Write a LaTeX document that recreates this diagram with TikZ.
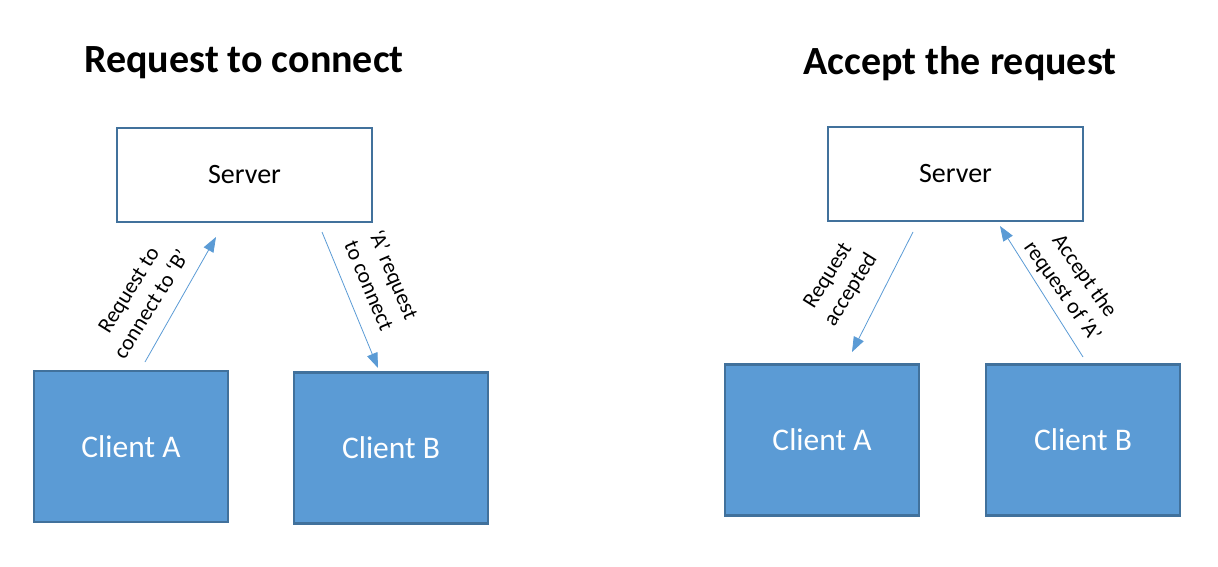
\documentclass[tikz,border=0pt]{standalone}
\usepackage{fontspec}
\setmainfont{Carlito}
\usetikzlibrary{arrows.meta}
\definecolor{boxborder}{HTML}{41719C}
\definecolor{boxfill}{HTML}{5B9BD5}
\begin{document}
\begin{tikzpicture}[x=1pt,y=1pt,
  serverbox/.style={draw=boxborder,line width=2.5pt,fill=white,minimum width=255pt,minimum height=94pt,inner sep=0pt,font=\fontsize{28}{32}\selectfont},
  clientbox/.style={draw=boxborder,line width=2.5pt,fill=boxfill,minimum width=194pt,minimum height=151pt,inner sep=0pt,text=white,font=\fontsize{31.5}{36}\selectfont},
  titletext/.style={font=\fontsize{40}{46}\selectfont\bfseries},
  flowarrow/.style={draw=boxfill,line width=0.8pt,-{Triangle[length=15pt,width=11pt]}},
  lbl/.style={align=center,font=\fontsize{22}{27}\selectfont,inner sep=0pt}]
\useasboundingbox (0,0) rectangle (1218,-567);
% left panel
\node[titletext] (t1) at (244,-63) {Request to connect};
\node[serverbox] (s1) at (244.5,-175) {Server};
\node[clientbox] (a1) at (131,-446.5) {Client A};
\node[clientbox] (b1) at (391,-448) {Client B};
\coordinate (p1s) at (145,-362);
\coordinate (p1e) at (216,-237);
\coordinate (p2s) at (322,-232);
\coordinate (p2e) at (378,-368);
\draw[flowarrow] (p1s) -- (p1e);
\draw[flowarrow] (p2s) -- (p2e);
\node[lbl,rotate=58] (l1) at (140,-297) {Request to\\connect to ‘B’};
\node[lbl,rotate=-67] (l2) at (382,-280) {‘A’ request\\to connect};
% right panel
\node[titletext] (t2) at (960,-64) {Accept the request};
\node[serverbox] (s2) at (955.5,-174) {Server};
\node[clientbox] (a2) at (822,-440) {Client A};
\node[clientbox] (b2) at (1083,-440) {Client B};
\coordinate (p3s) at (913,-232);
\coordinate (p3e) at (852,-352);
\coordinate (p4s) at (1083,-357);
\coordinate (p4e) at (1000,-226);
\draw[flowarrow] (p3s) -- (p3e);
\draw[flowarrow] (p4s) -- (p4e);
\node[lbl,rotate=58] (l3) at (840,-283) {Request\\accepted};
\node[lbl,rotate=-55] (l4) at (1073,-284) {Accept the\\request of ‘A’};
\end{tikzpicture}
\end{document}
